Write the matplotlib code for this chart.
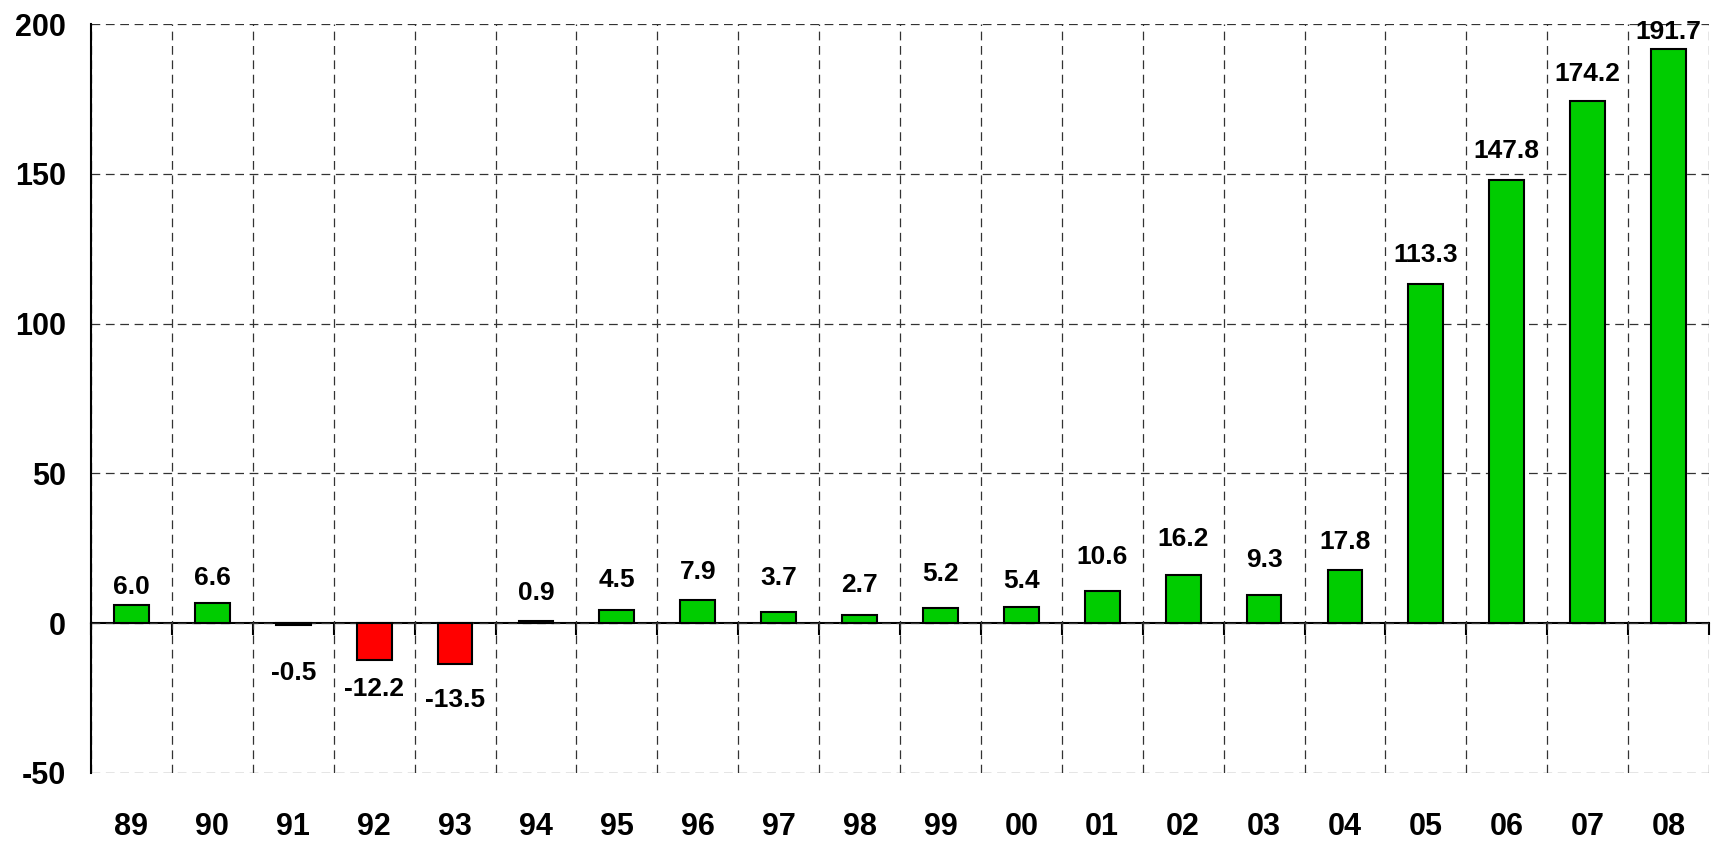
import numpy as np
import matplotlib
matplotlib.use("Agg")
from matplotlib import pyplot as plt

# data
years = ["89", "90", "91", "92", "93", "94", "95", "96", "97", "98",
         "99", "00", "01", "02", "03", "04", "05", "06", "07", "08"]
values = [6.0, 6.6, -0.5, -12.2, -13.5, 0.9, 4.5, 7.9, 3.7, 2.7,
          5.2, 5.4, 10.6, 16.2, 9.3, 17.8, 113.3, 147.8, 174.2, 191.7]

# label gap from bar end (pixels), labels were hand placed in the original
label_gaps = [11, 18, 36, 17, 24, 21, 23, 21, 27, 23,
              27, 19, 27, 29, 28, 21, 22, 22, 20, 10]

plt.rcParams["font.family"] = ["Liberation Sans", "DejaVu Sans"]
plt.rcParams["font.weight"] = "bold"
plt.rcParams["axes.unicode_minus"] = False

fig = plt.figure(figsize=(17.13, 8.41), dpi=100)
ax = fig.add_axes([91 / 1713, 1 - 773 / 841, (1709 - 91) / 1713, (773 - 24) / 841])

x = np.arange(len(years))
colors = ["#00CC00" if v >= 0 else "#FF0000" for v in values]
ax.bar(x, values, width=0.43, color=colors, edgecolor="black",
       linewidth=1.5, zorder=3)

ax.set_xlim(-0.5, len(years) - 0.5)
ax.set_ylim(-50, 200)
ax.set_yticks(np.arange(-50, 201, 50))
ax.set_xticks(x)
ax.set_xticklabels(years)
ax.tick_params(axis="y", length=0, pad=18, labelsize=22)
ax.tick_params(axis="x", length=0, pad=28, labelsize=22)

# grid lines: between categories and at each y tick
ax.set_xticks(np.arange(-0.5, len(years)), minor=True)
ax.tick_params(axis="x", which="minor", length=0)
ax.grid(True, axis="y", which="major", color="#333333", lw=0.9,
        linestyle=(0, (7, 4.5)), zorder=1)
ax.grid(True, axis="x", which="minor", color="#333333", lw=0.9,
        linestyle=(0, (7, 4.5)), zorder=1)
ax.grid(False, axis="x", which="major")

for side in ["top", "right", "bottom"]:
    ax.spines[side].set_visible(False)
ax.spines["left"].set_linewidth(1.5)
ax.spines["left"].set_zorder(4)

# zero axis with ticks at category boundaries
ymin, ymax = ax.get_ylim()
zero_ax = ax.secondary_xaxis((0 - ymin) / (ymax - ymin))
zero_ax.set_xticks(np.arange(-0.5, len(years)))
zero_ax.tick_params(length=8.6, width=1.5, direction="out", labelbottom=False)
zero_ax.spines["bottom"].set_linewidth(1.5)
zero_ax.spines["bottom"].set_zorder(5)

for xi, v, gap in zip(x, values, label_gaps):
    if v >= 0:
        ax.annotate(f"{v:.1f}", (xi, v), xytext=(0, gap),
                    textcoords="offset pixels", ha="center", va="baseline",
                    fontsize=19, fontweight="bold", zorder=6)
    else:
        ax.annotate(f"{v:.1f}", (xi, v), xytext=(0, -gap),
                    textcoords="offset pixels", ha="center", va="top",
                    fontsize=19, fontweight="bold", zorder=6)

plt.savefig("out.png", dpi=100)
